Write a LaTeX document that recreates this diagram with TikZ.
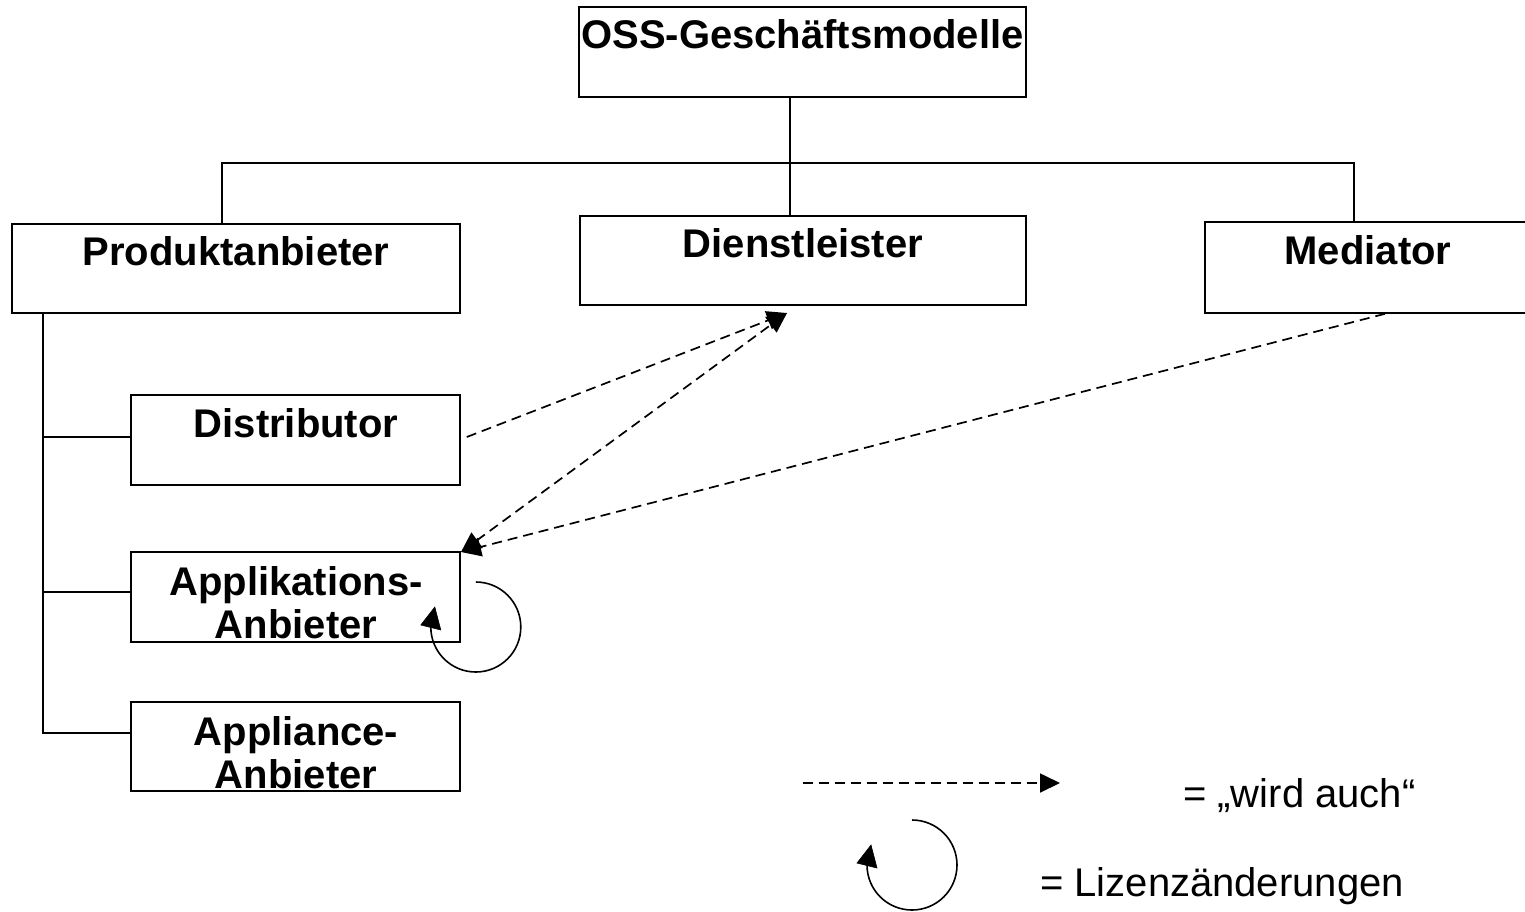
\documentclass[tikz,border=0pt]{standalone}
\usepackage{fontspec}
\setmainfont{Liberation Sans}
\usetikzlibrary{arrows.meta}
\begin{document}
\begin{tikzpicture}[x=1pt,y=1pt,
  box/.style={draw, line width=1.6pt, inner sep=0pt, minimum width=#1},
  lbl/.style={anchor=base, inner sep=0pt, font=\fontsize{40}{44}\selectfont\bfseries},
  legtxt/.style={anchor=base west, inner sep=0pt, font=\fontsize{40}{44}\selectfont},
  tree/.style={line width=1.5pt},
  dashline/.style={line width=1.7pt, dash pattern=on 10pt off 6pt},
  tip/.style={-{Triangle[length=20pt,width=19pt]}},
  bitip/.style={{Triangle[length=20pt,width=19pt]}-{Triangle[length=20pt,width=19pt]}},
  loop/.style={line width=1.6pt},
  loophead/.style={fill=black, draw=black, line width=0.6pt, line join=miter}]
\useasboundingbox (0,0) rectangle (1525,-911);
\fill[white] (0,0) rectangle (1525,-911);

% boxes
\node[box=447pt, minimum height=90pt] (oss)  at (802.5,-52) {};
\node[box=448pt, minimum height=89pt] (pa)   at (236,-268.5) {};
\node[box=446pt, minimum height=89pt] (dl)   at (803,-260.5) {};
\node[box=325pt, minimum height=91pt] (med)  at (1367.5,-267.5) {};
\node[box=329pt, minimum height=90pt] (dist) at (295.5,-440) {};
\node[box=329pt, minimum height=90pt] (app)  at (295.5,-597) {};
\node[box=329pt, minimum height=89pt] (appl) at (295.5,-746.5) {};

% texts
\node[lbl] (tOss)  at (802.5,-48) {OSS-Geschäftsmodelle};
\node[lbl] (tPa)   at (236,-265) {Produktanbieter};
\node[lbl] (tDl)   at (803,-257) {Dienstleister};
\node[lbl] (tMed)  at (1368,-264) {Mediator};
\node[lbl] (tDist) at (296,-437) {Distributor};
\node[lbl] (tApp1) at (296,-595) {Applikations-};
\node[lbl] (tApp2) at (296,-638) {Anbieter};
\node[lbl] (tAp1)  at (296,-745) {Appliance-};
\node[lbl] (tAp2)  at (296,-788) {Anbieter};

% top tree
\coordinate (j) at (790,-163);
\draw[tree] ([xshift=-12.5pt]oss.south) -- (j);
\draw[tree] (j) -- ([xshift=-13pt]dl.north);
\draw[tree] ([xshift=-14pt]pa.north) |- (j) -| ([xshift=-13.5pt]med.north);

% left tree
\coordinate (t0) at (43,-313);
\draw[tree] (t0) |- ([yshift=13.5pt]appl.west);
\draw[tree] ([yshift=3pt]dist.west) -- ([yshift=3pt]dist.west -| t0);
\draw[tree] ([yshift=5pt]app.west) -- ([yshift=5pt]app.west -| t0);

% dashed relations
\coordinate (dtip) at (787,-313);
\coordinate (atip) at (461,-552);
\draw[dashline, tip] ([shift={(6pt,3pt)}]dist.east) -- (dtip);
\draw[dashline, bitip] (atip) -- (dtip);
\draw[dashline, tip] ([xshift=17.5pt]med.south) -- (atip);

% license change loop
\coordinate (lp) at ([shift={(15pt,15pt)}]app.east);
\draw[loop] (lp) arc[start angle=90, end angle=-180, radius=45pt] coordinate (lpe);
\filldraw[loophead] ([shift={(-10pt,2pt)}]lpe) -- ([shift={(4pt,20pt)}]lpe) -- ([shift={(10pt,-3pt)}]lpe) -- cycle;

% legend
\coordinate (l1) at (803,-783);
\coordinate (l2) at (1060,-783);
\draw[dashline, tip] (l1) -- (l2);
\coordinate (l3) at (912,-820);
\draw[loop] (l3) arc[start angle=90, end angle=-180, radius=45pt] coordinate (l3e);
\filldraw[loophead] ([shift={(-10pt,2pt)}]l3e) -- ([shift={(4pt,20pt)}]l3e) -- ([shift={(10pt,-3pt)}]l3e) -- cycle;
\node[legtxt] (leg1) at (1183,-807) {= „wird auch“};
\node[legtxt] (leg2) at (1040,-896) {= Lizenzänderungen};
\end{tikzpicture}
\end{document}
